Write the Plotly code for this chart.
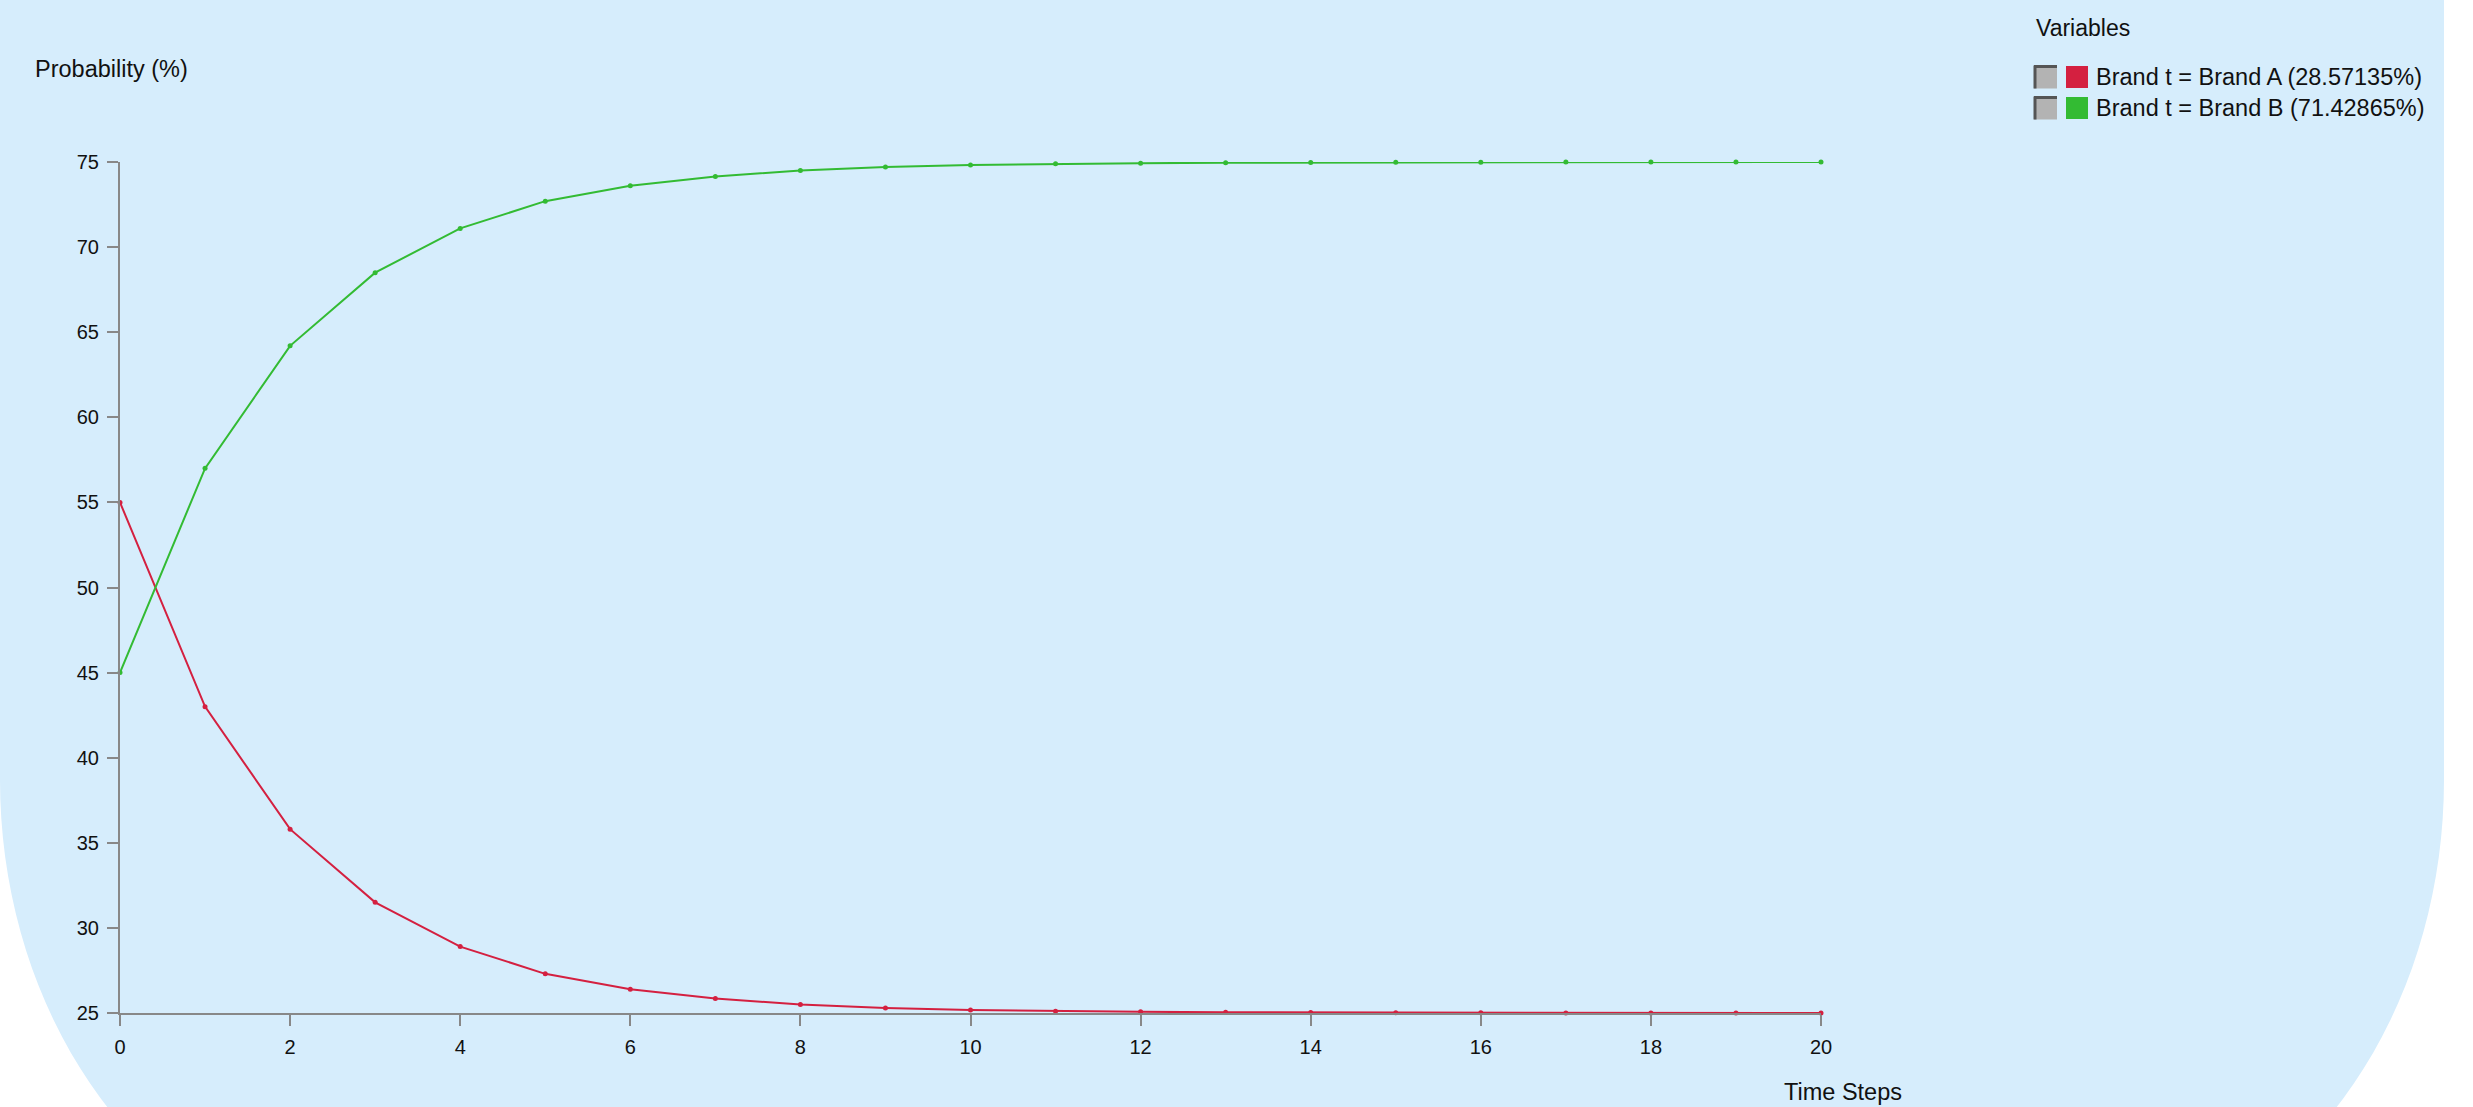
import numpy as np
import plotly.graph_objects as go

# ---- data ----
time_steps = list(range(0, 21))
brand_a = [55.0, 43.0, 35.8, 31.5, 28.9, 27.3, 26.4, 25.85, 25.5, 25.3, 25.18,
           25.11, 25.07, 25.04, 25.03, 25.02, 25.01, 25.0, 25.0, 25.0, 25.0]
brand_b = [45.0, 57.0, 64.2, 68.5, 71.1, 72.7, 73.6, 74.15, 74.5, 74.7, 74.82,
           74.89, 74.93, 74.96, 74.97, 74.98, 74.99, 75.0, 75.0, 75.0, 75.0]
series_names = ["Brand t = Brand A (28.57135%)", "Brand t = Brand B (71.42865%)"]
series_colors = ["#d42040", "#33bb33"]
x_title = "Time Steps"
y_title = "Probability (%)"
legend_title = "Variables"

# ---- layout geometry (pixels) ----
W, H = 2473, 1107
ML, MR, MT, MB = 120, 652, 162, 94
PW, PH = W - ML - MR, H - MT - MB
FONT = "Liberation Sans, Arial, Helvetica, sans-serif"
BG = "#d6edfc"


def px2x(px):
    return (px - ML) / PW


def px2y(py):
    return (H - MB - py) / PH


fig = go.Figure()
for vals, name, col in zip([brand_a, brand_b], series_names, series_colors):
    fig.add_trace(go.Scatter(
        x=time_steps, y=vals, name=name, mode="lines+markers",
        line=dict(color=col, width=2),
        marker=dict(color=col, size=5),
        cliponaxis=False, showlegend=False,
    ))

# ---- rounded light-blue panel ----
right_edge = 2444
rx, ry, yc = 400, 480, 780
pts = [(-10, -10), (right_edge, -10), (right_edge, yc)]
for a in np.linspace(0, np.pi / 2, 40):
    pts.append((right_edge - rx + rx * np.cos(a), yc + ry * np.sin(a)))
for a in np.linspace(np.pi / 2, np.pi, 40):
    pts.append((rx + rx * np.cos(a), yc + ry * np.sin(a)))
pts.append((0, yc))
pts.append((-10, yc))
path = "M " + " L ".join(f"{px2x(x):.5f},{px2y(y):.5f}" for x, y in pts) + " Z"
shapes = [dict(type="path", path=path, xref="paper", yref="paper",
               fillcolor=BG, line=dict(width=0), layer="below")]

# ---- custom legend ----
annotations = []
annotations.append(dict(text=legend_title, x=px2x(2034), y=px2y(28), xref="paper", yref="paper",
                        xanchor="left", yanchor="middle", showarrow=False,
                        font=dict(family=FONT, size=23, color="#111111")))
row_y = [77, 108]
for i, (name, col) in enumerate(zip(series_names, series_colors)):
    cy = row_y[i]
    # checkbox
    shapes.append(dict(type="rect", xref="paper", yref="paper",
                       x0=px2x(2034), x1=px2x(2057), y0=px2y(cy - 11.5), y1=px2y(cy + 11.5),
                       fillcolor="#b3b3b3", line=dict(width=0)))
    shapes.append(dict(type="line", xref="paper", yref="paper",
                       x0=px2x(2035), x1=px2x(2035), y0=px2y(cy - 11.5), y1=px2y(cy + 11.5),
                       line=dict(color="#555555", width=3)))
    shapes.append(dict(type="line", xref="paper", yref="paper",
                       x0=px2x(2034), x1=px2x(2057), y0=px2y(cy - 10.5), y1=px2y(cy - 10.5),
                       line=dict(color="#555555", width=3)))
    # colour swatch
    shapes.append(dict(type="rect", xref="paper", yref="paper",
                       x0=px2x(2066), x1=px2x(2088), y0=px2y(cy - 11), y1=px2y(cy + 11),
                       fillcolor=col, line=dict(width=0)))
    annotations.append(dict(text=name, x=px2x(2094), y=px2y(cy), xref="paper", yref="paper",
                            xanchor="left", yanchor="middle", showarrow=False,
                            font=dict(family=FONT, size=23.5, color="#111111")))

annotations.append(dict(text=y_title, x=px2x(33), y=px2y(69), xref="paper", yref="paper",
                        xanchor="left", yanchor="middle", showarrow=False,
                        font=dict(family=FONT, size=23.5, color="#111111")))
annotations.append(dict(text=x_title, x=px2x(1782), y=px2y(1092), xref="paper", yref="paper",
                        xanchor="left", yanchor="middle", showarrow=False,
                        font=dict(family=FONT, size=23.5, color="#111111")))

axis_common = dict(showline=True, linecolor="#888888", linewidth=2,
                   ticks="outside", ticklen=11, tickwidth=2, tickcolor="#888888",
                   showgrid=False, zeroline=False, ticklabelstandoff=4,
                   tickfont=dict(family=FONT, size=20, color="#111111"))

fig.update_layout(
    width=W, height=H,
    margin=dict(l=ML, r=MR, t=MT, b=MB, pad=0),
    paper_bgcolor="white", plot_bgcolor="rgba(0,0,0,0)",
    xaxis=dict(range=[0, 20], tick0=0, dtick=2, **axis_common),
    yaxis=dict(range=[25, 75], tick0=25, dtick=5, **axis_common),
    shapes=shapes, annotations=annotations,
    showlegend=False, hovermode="closest",
)

fig.write_html(
    "out.html",
    config={"displayModeBar": False},
    post_script="document.documentElement.style.margin='0';document.body.style.margin='0';"
                "document.body.style.overflow='hidden';",
)
